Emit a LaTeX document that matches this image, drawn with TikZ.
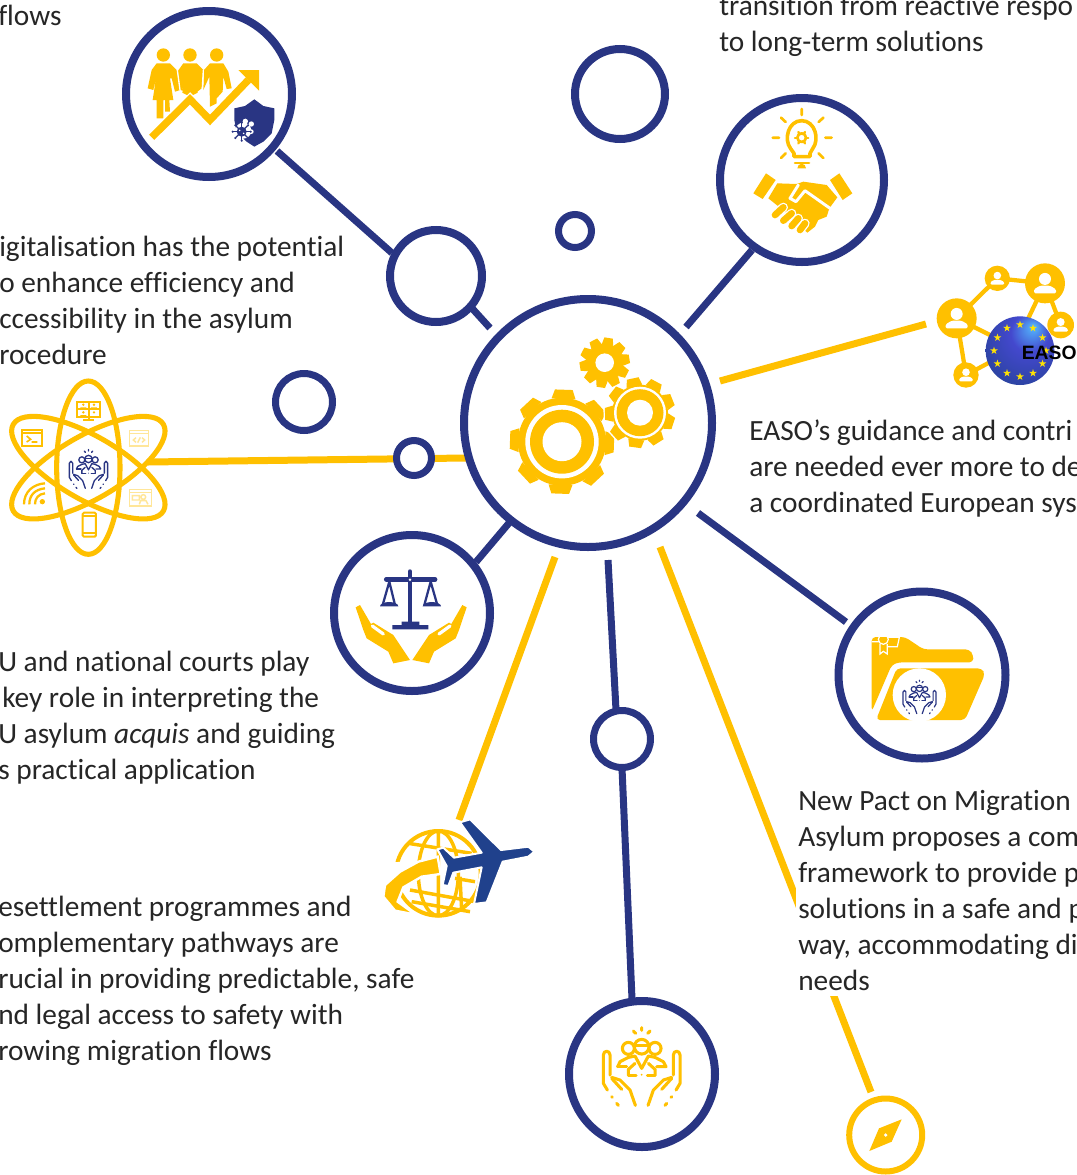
\documentclass[tikz,border=0pt]{standalone}
\usepackage{fontspec}
\setmainfont[Ligatures=NoCommon]{Carlito}
\newfontfamily\easofont{Liberation Sans}
\definecolor{navy}{HTML}{293583}
\definecolor{gold}{HTML}{FFC000}
\definecolor{paleg}{HTML}{FFE699}
\definecolor{planeblue}{HTML}{20418C}
\pgfdeclareradialshading{eushade}{\pgfpoint{10bp}{18bp}}{color(0bp)=(white!55!blue!60!cyan);color(14bp)=(blue!50!navy!80!white);color(42bp)=(planeblue);color(50bp)=(navy)}
\tikzset{
  x=0.75pt,y=-0.75pt,
  ring/.style={circle,draw=navy,fill=white,inner sep=0pt,line width=#1},
  ringbig/.style={ring=6pt,minimum size=(#1-8)*0.75pt},
  ringsmall/.style={ring=5.25pt,minimum size=(#1-7)*0.75pt},
  navyline/.style={draw=navy,line width=5.25pt},
  goldline/.style={draw=gold,line width=5.25pt},
  txt/.style={anchor=north west,inner sep=0pt,align=left,font=\fontsize{22}{27}\selectfont,text=black!85,execute at begin node={\rule{0pt}{20pt}}},
  iconline/.style={draw=gold,line width=#1,line cap=round,line join=round},
}
% gear: cx cy body outer teeth rot style
\newcommand{\geardraw}[7]{%
  \path[#7] (#1,#2) circle[radius=#3];
  \foreach \gi in {1,...,#5}{%
    \pgfmathsetmacro\ga{#6+360*\gi/#5}
    \path[#7,shift={(#1,#2)},rotate=\ga] (#3-1,-0.23*#4) -- (#4,-0.17*#4) -- (#4,0.17*#4) -- (#3-1,0.23*#4) -- cycle;
  }%
}
% people in hands: cx cy scale colour width
\newcommand{\peopleicon}[5]{%
\begin{scope}[shift={(#1,#2)},scale=#3/3,shift={(-215,-200)},draw=#4,line width=#5,line cap=round,line join=round]
  \draw (215,83)--(215,91) (190,93)--(197,100) (240,93)--(233,100);
  \draw (215,140) circle[radius=22];
  \draw (175,145) circle[radius=18] (255,145) circle[radius=18];
  \draw (195,135)--(235,135);
  \draw (143,200)--(150,185)--(175,172)--(195,168)--(215,205)--(235,168)--(255,172)--(280,185)--(288,200)--(260,200);
  \draw (143,200)--(170,200);
  \draw (175,225)--(175,208)--(195,190) (255,225)--(255,208)--(235,190);
  \draw (175,225)--(198,225) (232,225)--(255,225);
  \fill[#4] (215,224) circle[radius=3];
  \foreach \sx/\sh in {1/0,-1/430}{%
    \begin{scope}[shift={(\sh,0)},xscale=\sx]
    \draw (125,290)--(127,292) (140,310)--(145,316);
    \draw (112,270)--(100,250)--(100,165) .. controls (100,150) and (120,150) .. (120,165)--(120,225);
    \draw (125,232)--(150,240)--(180,270)--(196,316);
    \draw (125,235)--(155,268);
    \end{scope}}
\end{scope}}
\begin{document}
\begin{tikzpicture}
\fill[white] (0,0) rectangle (1076,1175);
\clip (0,0) rectangle (1076,1175);

% connector ends
\coordinate (c1a) at (277,151); \coordinate (c1b) at (392,253);
\coordinate (c1c) at (470,306); \coordinate (c1d) at (490,328);
\coordinate (c2a) at (752,250); \coordinate (c2b) at (686,327);
\coordinate (c3a) at (720,381); \coordinate (c3b) at (926,324);
\coordinate (c4a) at (148,462); \coordinate (c4b) at (466,458);
\coordinate (c5a) at (509,523); \coordinate (c5b) at (476,562);
\coordinate (c6a) at (698,513); \coordinate (c6b) at (846,622);
\coordinate (c7a) at (608,560); \coordinate (c7b) at (616,710);
\coordinate (c7c) at (622,768); \coordinate (c7d) at (632,999);
\coordinate (c8a) at (555,557); \coordinate (c8b) at (459,820);
\coordinate (c9a) at (660,547); \coordinate (c9b) at (871,1092);

\draw[navyline] (c1a)--(c1b);
\draw[navyline] (c1c)--(c1d);
\draw[navyline] (c2a)--(c2b);
\draw[goldline] (c3a)--(c3b);
\draw[goldline] (c4a)--(c4b);
\draw[navyline] (c5a)--(c5b);
\draw[navyline] (c6a)--(c6b);
\draw[navyline] (c7a)--(c7b);
\draw[navyline] (c7c)--(c7d);
\draw[goldline] (c8a)--(c8b);
\draw[goldline] (c9a)--(c9b);

% rings
\node[ringbig=256] (hub) at (588,423) {};
\node[ringbig=174] (migr) at (209,94) {};
\node[ringbig=100] (digi) at (436,276) {};
\node[ringbig=98] (open1) at (620,94) {};
\node[ringsmall=40] (open2) at (575,231) {};
\node[ringbig=172] (hands) at (802,180) {};
\node[ringsmall=64] (open3) at (304,402) {};
\node[ringsmall=42] (open4) at (414,458) {};
\node[ringbig=164] (law) at (412,613) {};
\node[ringbig=175] (folder) at (922,675) {};
\node[ringbig=154] (people) at (642,1074) {};
\node[ringsmall=64] (open5) at (622,739) {};
\node[circle,draw=gold,fill=white,line width=4.5pt,inner sep=0pt,minimum size=54.75pt] (compass) at (885.7,1135) {};

% gears
\geardraw{562}{441.7}{44}{52}{8}{-2}{fill=gold}
\fill[white] (562,441.7) circle[radius=36.7];
\fill[gold] (562,441.7) circle[radius=32];
\fill[white] (562,441.7) circle[radius=19.5];
\geardraw{640}{412.7}{28}{35}{9}{-18}{draw=white,line width=2.2pt,fill=white}
\geardraw{604.7}{362.7}{19}{25}{10}{9}{draw=white,line width=2pt,fill=white}
\geardraw{640}{412.7}{28}{35}{9}{-18}{fill=gold}
\geardraw{604.7}{362.7}{19}{25}{10}{9}{fill=gold}
\fill[white] (640,412.7) circle[radius=26];
\fill[gold] (640,412.7) circle[radius=23.5];
\fill[white] (640,412.7) circle[radius=13];
\fill[white] (604.7,362.7) circle[radius=9.3];

% migration icon
\begin{scope}[shift={(120,20)},scale=1/3]
  \fill[gold] (130,105) circle[radius=20] (210,105) circle[radius=20] (290,105) circle[radius=20];
  \fill[gold] (110,130)--(150,130)--(170,150)--(180,210)--(165,215)--(155,175)--(150,175)--(160,240)--(148,240)--(150,275)--(135,275)--(135,240)--(130,240)--(130,295)--(110,295)--(110,240)--(98,240)--(108,175)--(100,210)--(83,205)--(95,150)--cycle;
  \fill[gold] (190,130)--(230,130)--(250,150)--(245,205)--(232,215)--(225,175)--(233,218)--(210,230)--(187,218)--(195,175)--(187,212)--(172,205)--(172,155)--cycle;
  \fill[gold] (270,130)--(310,130)--(325,155)--(335,205)--(320,207)--(310,170)--(308,215)--(290,235)--(290,250)--(270,260)--(268,170)--(250,210)--(252,150)--cycle;
  \draw[white,line width=1pt] (172,150)--(180,210) (250,150)--(247,205);
  \draw[white,line width=7.5pt] (95,352)--(210,238)--(270,300)--(385,180);
  \draw[gold,line width=5.5pt] (95,352)--(210,238)--(270,300)--(385,180);
  \fill[gold] (355,150)--(417,150)--(417,212)--cycle;
  \fill[navy] (343,265)--(375,258)--(403,238)--(430,258)--(463,265)--(463,300)--(455,340)--(430,365)--(403,380)--(380,365)--(350,335)--(343,300)--cycle;
  \fill[white] (370,332) circle[radius=24] (394,312) circle[radius=8] (394,335) circle[radius=7] (376,304) circle[radius=8];
  \fill[navy] (365,335) circle[radius=15];
  \foreach \va in {0,45,...,315}{\draw[navy,line width=0.9pt] (365,335)--++(\va:25);\fill[navy] (365,335)++(\va:27) circle[radius=3.5];}
  \fill[white] (359,331) circle[radius=2.5] (371,340) circle[radius=2.5];
\end{scope}

% atom icon
\begin{scope}[shift={(0,370)},scale=1/3]
  \begin{scope}[shift={(265,293)}]
    \foreach \ra in {0,60,-60}{\draw[gold,line width=3.8pt,rotate=\ra] (0,0) circle[x radius=95,y radius=260];}
  \end{scope}
  % monitor
  \draw[gold,line width=1.6pt] (232,95) rectangle (300,142) (266,95)--(266,142) (232,118)--(300,118);
  \draw[gold,line width=1.6pt] (266,142)--(266,150) (250,151)--(282,151);
  \fill[gold] (250,104) circle[radius=4] (282,104) circle[radius=4] (250,127) circle[radius=4] (282,127) circle[radius=4] (241,116) rectangle (259,112) (273,116) rectangle (291,112) (241,139) rectangle (259,135);
  % terminal
  \draw[gold,line width=1.5pt] (67,180) rectangle (127,228) (67,190)--(127,190);
  \draw[gold,line width=1.2pt] (80,198)--(92,208)--(80,216) (95,216)--(112,216);
  % code box
  \draw[paleg,line width=1.2pt] (388,182) rectangle (445,228) (388,191)--(445,191);
  \draw[paleg,line width=1.1pt] (408,203)--(400,210)--(408,217) (426,203)--(434,210)--(426,217) (413,218)--(421,202);
  % chat box
  \draw[paleg,line width=1.2pt] (388,358) rectangle (455,408) (388,368)--(455,368);
  \draw[paleg,line width=1.1pt] (397,377) rectangle (418,390) (430,381) circle[radius=7] (418,403)--(422,392)--(438,392)--(444,403);
  % wifi
  \fill[gold] (127,395) circle[radius=8];
  \draw[gold,line width=1.7pt] (105,403) .. controls (105,385) and (115,372) .. (135,370);
  \draw[gold,line width=1.7pt] (88,403) .. controls (88,375) and (105,358) .. (135,355);
  \draw[gold,line width=1.7pt] (72,403) .. controls (72,365) and (100,342) .. (135,340);
  % phone
  \draw[gold,line width=1.5pt,rounded corners=1pt] (248,428) rectangle (288,500);
  \draw[gold,line width=1.3pt] (248,437)--(288,437) (248,490)--(288,490);
\end{scope}
\peopleicon{88.5}{469}{0.5}{navy}{1pt}

% handshake icon
\begin{scope}[shift={(720,100)},scale=1/3]
  \draw[iconline=2.7pt] (222,170)--(222,160)--(212,146) .. controls (190,118) and (205,62) .. (245,62) .. controls (285,62) and (300,118) .. (278,146)--(270,160)--(270,170)--cycle;
  \draw[iconline=2pt] (225,189)--(267,189);
  \fill[gold] (232,205) -- (258,205) arc[start angle=0,end angle=180,x radius=13,y radius=-14] -- cycle;
  \draw[iconline=2pt] (245,27)--(245,45) (183,53)--(197,66) (158,113)--(177,113) (183,174)--(197,160) (310,53)--(296,66) (316,113)--(335,113) (310,174)--(296,160);
  \draw[iconline=2pt] (245,113) circle[radius=13];
  \foreach \ga in {0,60,...,300}{\draw[iconline=1.7pt] (245,113)++(\ga:14)--++(\ga:6);}
  \fill[gold] (138,220)--(167,240)--(128,297)--(100,280)--cycle;
  \fill[gold] (358,220)--(397,280)--(368,300)--(330,240)--cycle;
  \fill[gold] (172,250)--(230,252)--(250,245)--(320,255)--(352,292)--(328,325)--(320,350)--(295,360)--(285,380)--(262,398)--(225,365)--(195,335)--(145,295)--cycle;
  \draw[white,line width=2.2pt,line join=round,line cap=round] (330,325)--(255,272)--(228,305)--(210,295)--(235,255);
  \draw[white,line width=7pt,line cap=round] (165,345)--(190,322) (190,362)--(215,340) (215,378)--(235,355) (240,390)--(255,370);
  \draw[iconline=5pt] (165,345)--(190,322) (190,362)--(215,340) (215,378)--(235,355) (240,390)--(255,370);
\end{scope}

% network icon
\begin{scope}[shift={(920,255)},scale=1/3]
  \draw[gold,line width=3.2pt] (110,190)--(232,70)--(375,85) (110,190)--(138,360)--(250,300) (110,190)--(250,260) (375,85)--(320,200) (375,85)--(422,210);
  \foreach \nx/\ny/\nr in {110/190/60,232/70/38,375/85/60,422/210/40,138/360/38}{%
    \fill[gold] (\nx,\ny) circle[radius=\nr];
    \begin{scope}[shift={(\nx,\ny)}]
      \fill[white] (0,-0.22*\nr) circle[radius=0.30*\nr];
      \fill[white,rounded corners=1pt] (-0.55*\nr,0.5*\nr)--(-0.55*\nr,0.3*\nr)--(-0.25*\nr,0.12*\nr)--(0.25*\nr,0.12*\nr)--(0.55*\nr,0.3*\nr)--(0.55*\nr,0.5*\nr)--cycle;
    \end{scope}}
  \shade[shading=eushade] (300,287) circle[radius=103];
  \foreach \sa in {0,30,...,330}{%
    \begin{scope}[shift={(300,287)}]
    \begin{scope}[shift={(\sa:78)}]
      \fill[yellow!85!orange] (-90:12)--(54:12)--(198:12)--(-18:12)--(126:12)--cycle;
    \end{scope}
    \end{scope}}
\end{scope}
\node[font=\easofont\bfseries\fontsize{14.5}{14}\selectfont,anchor=west,inner sep=0pt,text=black] (easologo) at (1021.5,352.5) {EASO};

% law icon
\begin{scope}[shift={(340,550)},scale=1/3]
  \fill[gold] (47,172)--(60,165)--(93,222)--(100,218)--(160,255)--(210,330)--(160,340)--(145,305)--(80,265)--(70,240)--cycle;
  \fill[gold] (380,172)--(367,165)--(334,222)--(327,218)--(267,255)--(217,330)--(267,340)--(282,305)--(347,265)--(357,240)--cycle;
  \draw[white,line width=2.4pt,line cap=round] (97,228)--(130,252) (330,228)--(297,252);
  \draw[navy,line width=3.6pt,line cap=round] (210,65)--(210,215);
  \draw[navy,line width=3.6pt,line cap=round] (139,88)--(285,88);
  \fill[navy] (157,225) rectangle (265,238) (185,215) rectangle (238,226);
  \fill[white] (210,89) circle[radius=4];
  \draw[navy,line width=1.7pt] (128,165)--(148,95)--(165,165) (253,165)--(272,95)--(292,165);
  \fill[navy] (120,169)--(175,169) arc[start angle=0,end angle=180,x radius=27.5,y radius=-13]--cycle;
  \fill[navy] (248,169)--(303,169) arc[start angle=0,end angle=180,x radius=27.5,y radius=-13]--cycle;
\end{scope}

% folder icon
\begin{scope}[shift={(840,600)},scale=1/3]
  \fill[gold,rounded corners=3pt] (95,111)--(195,111)--(250,148)--(388,148)--(400,165)--(400,187)--(175,187)--(155,195)--(95,335)--cycle;
  \fill[gold,rounded corners=3pt] (170,205)--(425,205)--(435,222)--(375,360)--(108,360)--cycle;
  \fill[white] (238,285) circle[radius=80];
  \draw[white,line width=0.9pt] (95,125)--(118,125) (143,112)--(178,112)--(172,140)--(142,140) (130,118) circle[radius=15] (120,132)--(120,162)--(130,154)--(142,162)--(142,132);
\end{scope}
\peopleicon{919.5}{697}{0.43}{navy}{0.9pt}

% people icon
\peopleicon{641.7}{1066.7}{1}{gold}{2.3pt}

% compass needle
\begin{scope}[shift={(570,1000)},scale=1/3]
  \fill[gold] (995,358)--(965,425)--(898,453)--(927,385)--cycle;
  \fill[white] (947,405) circle[radius=5.5];
\end{scope}

% plane and globe
\begin{scope}[shift={(375,810)},scale=1/3]
  \draw[gold,line width=3pt] (190,190) circle[radius=127];
  \draw[gold,line width=2.6pt] (190,63)--(190,320) (190,190) circle[x radius=60,y radius=127];
  \draw[gold,line width=2.6pt] (100,100)--(290,130) (105,240)--(300,275) (110,275)--(285,305);
  \draw[gold,line width=2.6pt] (240,205)--(300,215) (255,200)--(260,300);
  \fill[white] (85,155)--(60,260)--(30,340)--(0,340)--(0,160)--cycle;
  \draw[white,line width=1.8pt,fill=gold] (188,140)--(197,192)--(140,200)--(85,232)--(68,275)--(122,314)--(60,302)--(25,260)--(30,225)--(75,185)--(130,155)--cycle;
  \draw[white,line width=1.5pt,fill=planeblue,line join=round] (255,37)--(285,28)--(378,120)--(460,110)--(478,125)--(460,140)--(383,155)--(335,277)--(297,282)--(320,172)--(235,188)--(220,228)--(203,225)--(215,168)--(187,118)--(205,113)--(237,143)--(320,128)--cycle;
  \fill[white] (318,295) rectangle (400,345);
\end{scope}

% texts
\node[txt] (t0) at (-2,-1) {flows};
\node[txt] (t1) at (719,-5) {transition from reactive respo\\to long-term solutions};
\node[txt] (t2) at (-1,236) {igitalisation has the potential\\o enhance efficiency and\\ccessibility in the asylum\\rocedure};
\node[txt] (t3) at (749,419.5) {EASO’s guidance and contri\\are needed ever more to de\\a coordinated European sys};
\node[txt] (t4) at (-2,650.5) {U and national courts play\\\hspace*{3pt}key role in interpreting the\\U asylum \emph{acquis} and guiding\\s practical application};
\node[txt] (t5) at (-2,895.5) {esettlement programmes and\\omplementary pathways are\\rucial in providing predictable, safe\\nd legal access to safety with\\rowing migration flows};
\fill[white] (796,785) rectangle (1076,996);
\node[txt] (t6) at (798,790.5) {New Pact on Migration\\Asylum proposes a com\\framework to provide p\\solutions in a safe and p\\way, accommodating di\\needs};
\end{tikzpicture}
\end{document}
